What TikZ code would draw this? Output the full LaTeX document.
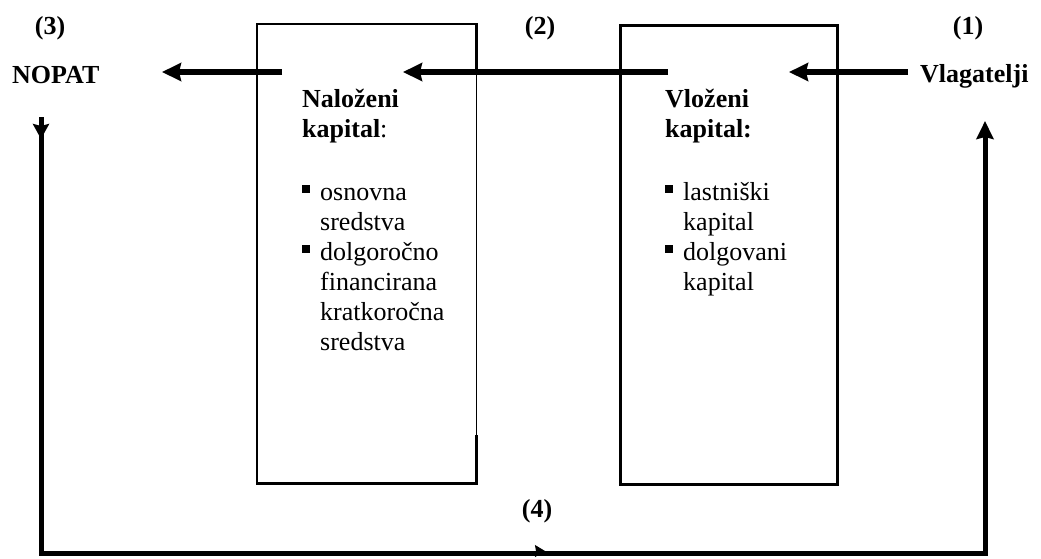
\documentclass[tikz,border=0pt]{standalone}
\usepackage{fontspec}
\setmainfont{Liberation Serif}
\usetikzlibrary{arrows.meta,calc}
\newcommand\sqbul{\rule[7pt]{8pt}{8pt}}
\newcommand\itm[1]{\makebox[18pt][l]{\sqbul}#1}
\newcommand\cont[1]{\hspace*{18pt}#1}
\begin{document}
\begin{tikzpicture}[x=1pt,y=-1pt,
  lbl/.style={inner sep=0, anchor=base, font=\fontsize{26}{30}\selectfont\bfseries},
  body/.style={inner sep=0, anchor=base west, font=\fontsize{26}{30}\selectfont},
  frame/.style={line width=2.6pt},
  flow/.style={line width=5.8pt, -{Stealth[length=19pt,width=18pt,inset=2pt]}},
  loop/.style={line width=5pt, line join=miter}]
\useasboundingbox (0,0) rectangle (1041,558);

% boxes
\node[inner sep=0, minimum width=219pt, minimum height=459pt, anchor=north west] (b1) at (257,24) {};
\node[frame, draw, inner sep=0, minimum width=217pt, minimum height=459pt, anchor=north west] (b2) at (619,24) {};
\draw[frame] ($(b1.south east)+(0,-48)$) -- (b1.south east) -- (b1.south west)
  -- (b1.north west) -- (b1.north east) -- ++(0,50);
\draw[line width=0.9pt] ($(b1.north east)+(0,48)$) -- ($(b1.south east)+(0,-48)$);

% labels
\node[lbl] (n3) at (50,34) {(3)};
\node[lbl, anchor=base west] (nopat) at (12,83) {NOPAT};
\node[lbl] (n2) at (540,34) {(2)};
\node[lbl] (n1) at (968,34) {(1)};
\node[lbl, anchor=base west] (vlag) at (920,82) {Vlagatelji};
\node[lbl] (n4) at (537,517) {(4)};

% box contents
\node[body] (t1) at (302,107) {\begin{tabular}[t]{@{}l@{}}
  \textbf{Naloženi}\\
  \textbf{kapital}:\\[33pt]
  \itm{osnovna}\\
  \cont{sredstva}\\
  \itm{dolgoročno}\\
  \cont{financirana}\\
  \cont{kratkoročna}\\
  \cont{sredstva}
\end{tabular}};
\node[body] (t2) at (665,107) {\begin{tabular}[t]{@{}l@{}}
  \textbf{Vloženi}\\
  \textbf{kapital:}\\[33pt]
  \itm{lastniški}\\
  \cont{kapital}\\
  \itm{dolgovani}\\
  \cont{kapital}
\end{tabular}};

% arrow end points
\coordinate (a1s) at (908,72);
\coordinate (a1e) at (789,72);
\coordinate (a2s) at (668,72);
\coordinate (a2e) at (403,72);
\coordinate (a3s) at (282,72);
\coordinate (a3e) at (162,72);
\coordinate (lt) at (41,117);
\coordinate (rt) at (985,121);
\coordinate (bl) at (41,553);
\coordinate (br) at (985,553);

% flow arrows
\draw[flow] (a1s) -- (a1e);
\draw[flow] (a2s) -- (a2e);
\draw[flow] (a3s) -- (a3e);

% return loop
\draw[loop, -{Stealth[length=18pt,width=17pt,inset=2pt]}] (lt) -- (bl) -- (br) -- (rt);
\draw[line width=5pt, -{Stealth[length=15pt,width=16pt,inset=2pt]}] (lt) -- ++(0,22);
\draw[line width=1pt, -{Stealth[length=10pt,width=12pt,inset=1pt]}] (520,551) -- (545,551);
\end{tikzpicture}
\end{document}
